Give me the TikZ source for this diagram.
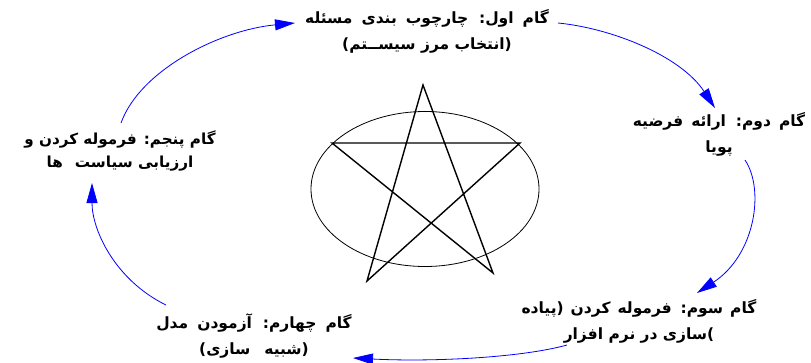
\documentclass[tikz,border=0pt]{standalone}
\usepackage{fontspec}
\usetikzlibrary{arrows.meta}
\TeXXeTstate=1
\newfontfamily\farsi[Script=Arabic]{DejaVu Sans}
\tikzset{
  steptext/.style={font=\farsi\bfseries\fontsize{15.5}{26}\selectfont, align=center, inner sep=0pt},
  flow/.style={draw=blue, line width=0.8pt, -{Triangle[length=20pt,width=11pt]}},
  starline/.style={line width=1.4pt, line join=miter},
}
\newcommand{\rl}[1]{\beginR #1\endR}
\newcommand{\wsp}[1]{\spaceskip=#1\relax}
\begin{document}
\begin{tikzpicture}[x=1pt,y=-1pt]
\useasboundingbox (0,0) rectangle (811,362);
\fill[white] (0,0) rectangle (811,362);
% central figure
\draw[line width=0.8pt] (425,189) ellipse [x radius=114pt, y radius=77.5pt];
\coordinate (pt) at (423,85);
\coordinate (pl) at (332,143);
\coordinate (pr) at (520,143);
\coordinate (pbl) at (367,281);
\coordinate (pbr) at (493,273);
\draw[starline] (pt) -- (pbl) -- (pr) -- (pl) -- (pbr) -- cycle;
% steps
\node[steptext] (s1) at (427,31) {\wsp{9pt}\rl{گام اول: چارچوب بندی مسئله}\\\rl{(انتخاب مرز سیســتم)}};
\node[steptext] (s2) at (719,134) {\wsp{8pt}\rl{گام دوم: ارائه فرضیه}\\\rl{پویا}};
\node[steptext] (s3) at (639,321) {\wsp{7pt}\rl{گام سوم: فرموله کردن (پیاده}\\\rl{)سازی در نرم افزار}};
\node[steptext] (s4) at (254,336) {\wsp{9pt}\rl{گام چهارم: آزمودن مدل}\\\rl{(شبیه\hspace{14pt}سازی)}};
\node[steptext, font=\farsi\bfseries\fontsize{15.2}{23}\selectfont] (s5) at (120,151) {\rl{گام پنجم: فرموله کردن و}\\\rl{ارزیابی سیاست\hspace{12pt}ها}};
% connector ends
\coordinate (a1s) at (121,123);
\coordinate (a1e) at (295,23);
\coordinate (a2s) at (558,23);
\coordinate (a2e) at (715,108);
\coordinate (a3s) at (745,160);
\coordinate (a3e) at (697,293);
\coordinate (a4s) at (567,345);
\coordinate (a4e) at (353,358);
\coordinate (a5s) at (166,305);
\coordinate (a5e) at (92,183);
\draw[flow] (a1s) .. controls (140,70) and (220,30) .. (a1e);
\draw[flow] (a2s) .. controls (610,28) and (680,55) .. (a2e);
\draw[flow] (a3s) .. controls (765,190) and (755,255) .. (a3e);
\draw[flow] (a4s) .. controls (520,358) and (430,362) .. (a4e);
\draw[flow] (a5s) .. controls (115,280) and (92,230) .. (a5e);
\end{tikzpicture}
\end{document}
